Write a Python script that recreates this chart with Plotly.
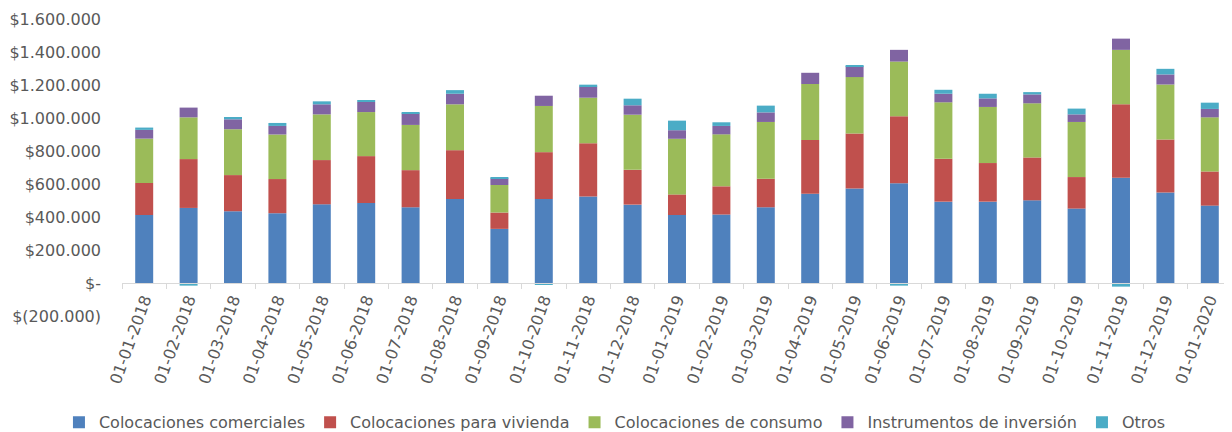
import plotly.graph_objects as go

fechas = ["01-01-2018", "01-02-2018", "01-03-2018", "01-04-2018", "01-05-2018", "01-06-2018",
          "01-07-2018", "01-08-2018", "01-09-2018", "01-10-2018", "01-11-2018", "01-12-2018",
          "01-01-2019", "01-02-2019", "01-03-2019", "01-04-2019", "01-05-2019", "01-06-2019",
          "01-07-2019", "01-08-2019", "01-09-2019", "01-10-2019", "01-11-2019", "01-12-2019",
          "01-01-2020"]

comerciales = [412000, 455000, 435000, 423000, 477000, 485000, 459000, 509000, 328000, 509000,
               525000, 475000, 412000, 415000, 459000, 541000, 572000, 604000, 493000, 493000,
               501000, 451000, 638000, 548000, 469000]
vivienda = [194000, 296000, 219000, 207000, 268000, 284000, 225000, 296000, 99000, 284000,
            322000, 211000, 125000, 171000, 173000, 326000, 334000, 406000, 260000, 234000,
            260000, 191000, 445000, 321000, 207000]
consumo = [269000, 253000, 278000, 270000, 277000, 267000, 274000, 278000, 167000, 280000,
           276000, 334000, 337000, 315000, 344000, 339000, 342000, 332000, 342000, 340000,
           328000, 334000, 330000, 334000, 328000]
inversion = [53000, 59000, 60000, 52000, 61000, 61000, 70000, 64000, 40000, 62000,
             68000, 57000, 52000, 51000, 58000, 68000, 66000, 71000, 52000, 52000,
             54000, 46000, 68000, 61000, 51000]
otros = [14000, -16000, 14000, 18000, 18000, 10000, 5000, 22000, 6000, -12000,
         11000, 40000, 58000, 22000, 41000, -5000, 4000, -16000, 24000, 28000,
         14000, 35000, -22000, 34000, 38000]

series = [
    ("Colocaciones comerciales", comerciales, "#4F81BD"),
    ("Colocaciones para vivienda", vivienda, "#C0504D"),
    ("Colocaciones de consumo", consumo, "#9BBB59"),
    ("Instrumentos de inversión", inversion, "#8064A2"),
    ("Otros", otros, "#4BACC6"),
]

y_ticks = [-200000, 0, 200000, 400000, 600000, 800000, 1000000, 1200000, 1400000, 1600000]
y_ticktext = ["$(200.000)", "$-", "$200.000", "$400.000", "$600.000", "$800.000",
              "$1.000.000", "$1.200.000", "$1.400.000", "$1.600.000"]

FONT = "DejaVu Sans, Verdana, sans-serif"
GRAY = "#595959"

fig = go.Figure()
for name, vals, color in series:
    fig.add_trace(go.Bar(x=fechas, y=vals, name=name, marker_color=color,
                         marker_line_width=0))

ymin, ymax = -200000, 1600000
zero_pos = (0 - ymin) / (ymax - ymin)

# page body adds an 8px offset; figure sized to fill the remaining window
fig.update_layout(
    width=1224, height=424,
    barmode="relative",
    bargap=0.595,
    plot_bgcolor="white",
    paper_bgcolor="white",
    margin=dict(l=114, r=0, t=11, b=116, autoexpand=False),
    font=dict(family=FONT, size=16, color=GRAY),
    xaxis=dict(
        type="category",
        tickangle=-70,
        automargin=False,
        showline=True, linecolor="#D9D9D9", linewidth=1,
        ticks="outside", tickson="boundaries", ticklen=5, tickcolor="#D9D9D9",
        anchor="free", position=zero_pos,
        showgrid=False,
        tickfont=dict(family=FONT, size=16, color=GRAY),
    ),
    yaxis=dict(
        range=[ymin, ymax],
        automargin=False,
        tickvals=y_ticks, ticktext=y_ticktext,
        showgrid=False, zeroline=False, showline=False,
        ticks="", ticklabelstandoff=20,
        tickfont=dict(family=FONT, size=16, color=GRAY),
    ),
    legend=dict(
        orientation="h",
        x=-0.0568, xanchor="left",
        y=-0.358, yanchor="middle",
        font=dict(family=FONT, size=16, color=GRAY),
        traceorder="normal",
    ),
)

fig.write_html("out.html")
